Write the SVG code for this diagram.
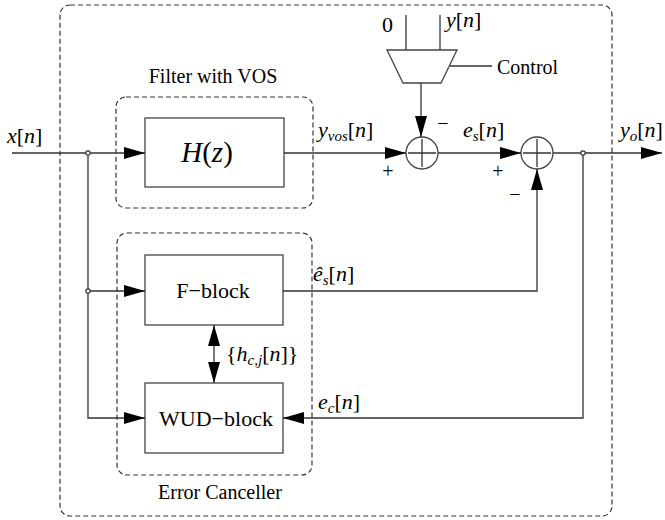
<svg xmlns="http://www.w3.org/2000/svg" width="665" height="520" viewBox="0 0 665 520">
<style>
.dash{fill:none;stroke:#333;stroke-width:1.2;stroke-dasharray:5,3}
.blk{fill:#fff;stroke:#444;stroke-width:1.3}
.ln{fill:none;stroke:#333;stroke-width:1.3}
.arr{marker-end:url(#ah)}
.t{font-family:"Liberation Serif","Times New Roman",serif;fill:#000}
.lab{font-size:20px}
.bl{font-size:22px}
.m{font-size:22px}
.i{font-style:italic}
.sub{font-size:15px;font-style:italic}
.dot{fill:#fff;stroke:#333;stroke-width:1.2}
</style>
<defs>
<marker id="ah" markerUnits="userSpaceOnUse" markerWidth="22" markerHeight="12" refX="21" refY="6" orient="auto-start-reverse">
<path d="M0,0 L21,6 L0,12 z" fill="#000"/>
</marker>
</defs>

<g id="outer"><rect class="dash" x="60" y="5" width="552" height="511" rx="10"/></g>

<g id="filter-vos">
<rect class="dash" x="116" y="97" width="197" height="111" rx="10"/>
<text class="t lab" x="213" y="83" text-anchor="middle">Filter with VOS</text>
</g>

<g id="error-canceller">
<rect class="dash" x="117" y="233" width="195" height="242" rx="10"/>
<text class="t lab" x="220" y="499" text-anchor="middle">Error Canceller</text>
</g>

<g id="H">
<rect class="blk" x="145" y="118" width="139" height="69"/>
<text class="t" x="207" y="162" text-anchor="middle" font-size="29"><tspan class="i">H</tspan>(<tspan class="i">z</tspan>)</text>
</g>

<g id="F-block">
<rect class="blk" x="145" y="255" width="138" height="70"/>
<text class="t bl" x="213" y="298" text-anchor="middle">F−block</text>
</g>

<g id="WUD-block">
<rect class="blk" x="145" y="383" width="138" height="70"/>
<text class="t bl" x="216" y="426" text-anchor="middle">WUD−block</text>
</g>

<g id="mux">
<polygon class="blk" points="387,50 457,50 441,83 403,83"/>
<line class="ln" x1="406" y1="15" x2="406" y2="50"/>
<line class="ln" x1="440" y1="15" x2="440" y2="50"/>
<text class="t m" x="382" y="32">0</text>
<text class="t m" x="446" y="27"><tspan class="i">y</tspan>[<tspan class="i">n</tspan>]</text>
<line class="ln" x1="450" y1="66" x2="492" y2="66"/>
<text class="t lab" x="497" y="74">Control</text>
</g>

<g id="sum1">
<circle class="blk" cx="422" cy="153" r="16"/>
<path class="ln" d="M408,153 H436 M422,139 V167"/>
<text class="t lab" x="388" y="178" text-anchor="middle">+</text>
<text class="t lab" x="443" y="130" text-anchor="middle">−</text>
</g>

<g id="sum2">
<circle class="blk" cx="537" cy="153" r="16"/>
<path class="ln" d="M523,153 H551 M537,139 V167"/>
<text class="t lab" x="498" y="178" text-anchor="middle">+</text>
<text class="t lab" x="515" y="201" text-anchor="middle">−</text>
</g>

<g id="connectors">
<line class="ln arr" x1="12" y1="153" x2="145" y2="153"/>
<line class="ln arr" x1="284" y1="153" x2="406" y2="153"/>
<line class="ln arr" x1="421" y1="83" x2="421" y2="137"/>
<line class="ln arr" x1="438" y1="153" x2="521" y2="153"/>
<line class="ln arr" x1="553" y1="153" x2="662" y2="153"/>
<polyline class="ln arr" points="283,291 537,291 537,169"/>
<polyline class="ln arr" points="583,153 583,418 283,418"/>
<polyline class="ln arr" points="88,153 88,418 145,418"/>
<line class="ln arr" x1="88" y1="291" x2="145" y2="291"/>
<line class="ln arr" x1="214" y1="325" x2="214" y2="383" style="marker-start:url(#ah)"/>
<circle class="dot" cx="88" cy="153" r="2.2"/>
<circle class="dot" cx="88" cy="291" r="2.2"/>
<circle class="dot" cx="583" cy="153" r="2.2"/>
</g>

<g id="labels">
<text class="t m" x="7" y="143"><tspan class="i">x</tspan>[<tspan class="i">n</tspan>]</text>
<text class="t m" x="318" y="137"><tspan class="i">y</tspan><tspan class="sub" dy="4">vos</tspan><tspan dy="-4">[</tspan><tspan class="i">n</tspan>]</text>
<text class="t m" x="463" y="137"><tspan class="i">e</tspan><tspan class="sub" dy="4">s</tspan><tspan dy="-4">[</tspan><tspan class="i">n</tspan>]</text>
<text class="t m" x="620" y="137"><tspan class="i">y</tspan><tspan class="sub" dy="4">o</tspan><tspan dy="-4">[</tspan><tspan class="i">n</tspan>]</text>
<text class="t m" x="313" y="281"><tspan class="i">ê</tspan><tspan class="sub" dy="4">s</tspan><tspan dy="-4">[</tspan><tspan class="i">n</tspan>]</text>
<text class="t m" x="226" y="361">{<tspan class="i">h</tspan><tspan class="sub" dy="4">c,j</tspan><tspan dy="-4">[</tspan><tspan class="i">n</tspan>]}</text>
<text class="t m" x="318" y="409"><tspan class="i">e</tspan><tspan class="sub" dy="4">c</tspan><tspan dy="-4">[</tspan><tspan class="i">n</tspan>]</text>
</g>
</svg>
